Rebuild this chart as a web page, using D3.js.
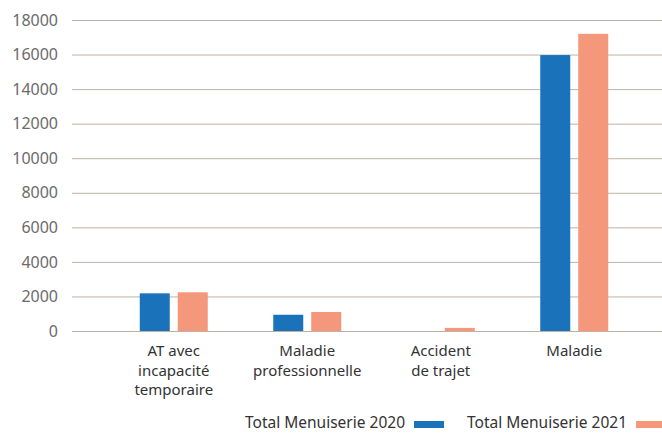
<!DOCTYPE html>
<html>
<head>
<meta charset="utf-8">
<script src="https://cdn.jsdelivr.net/npm/d3@7"></script>
<style>
  body { margin: 0; background: #fff; }
  svg { display: block; font-family: "Noto Sans", sans-serif; }
</style>
</head>
<body>
<div id="chart"></div>
<script>
// --- Data ---
var categories = [
    ['AT avec', 'incapacité', 'temporaire'],
    ['Maladie', 'professionnelle'],
    ['Accident', 'de trajet'],
    ['Maladie']
];
var seriesNames = ['Total Menuiserie 2020', 'Total Menuiserie 2021'];
var values2020 = [2180, 940, 0, 15970];
var values2021 = [2240, 1100, 180, 17200];
var yTicks = [0, 2000, 4000, 6000, 8000, 10000, 12000, 14000, 16000, 18000];

var colors = ['#1a73ba', '#f4977a'];
var width = 662, height = 433;

var svg = d3.select('#chart').append('svg')
    .attr('width', width)
    .attr('height', height);

// --- Scales ---
var y = d3.scaleLinear().domain([0, 18000]).range([331, 20]);
var x = d3.scaleBand().domain(d3.range(categories.length)).range([107, 641]);
var xs = d3.scaleBand().domain([0, 1]).range([0, 68]).paddingInner(8 / 38);

// --- Gridlines + y labels ---
var yAxis = svg.append('g')
    .attr('transform', 'translate(72,0)')
    .call(d3.axisLeft(y).tickValues(yTicks).tickSize(-(width - 72)).tickPadding(14)
        .tickFormat(d3.format('d')));
yAxis.select('.domain').remove();
yAxis.selectAll('.tick line').attr('stroke', '#bfb1a5').attr('stroke-width', 1);
yAxis.selectAll('.tick text')
    .attr('fill', '#6b6b6b')
    .attr('font-size', '16px')
    .attr('font-family', '"Noto Sans", sans-serif');

// --- Bars ---
var series = [values2020, values2021];
var groups = svg.append('g').selectAll('g')
    .data(categories)
    .join('g')
    .attr('transform', function (d, i) { return 'translate(' + (x(i) + (x.bandwidth() - 68) / 2) + ',0)'; });

groups.selectAll('rect')
    .data(function (d, i) { return series.map(function (s, k) { return { k: k, v: s[i] }; }); })
    .join('rect')
    .attr('x', function (d) { return xs(d.k); })
    .attr('width', xs.bandwidth())
    .attr('y', function (d) { return y(d.v); })
    .attr('height', function (d) { return y(0) - y(d.v); })
    .attr('fill', function (d) { return colors[d.k]; });

// --- Category labels (one text per line) ---
groups.selectAll('text.cat')
    .data(function (d) { return d; })
    .join('text')
    .attr('class', 'cat')
    .attr('text-anchor', 'middle')
    .attr('fill', '#333')
    .attr('font-size', '15px')
    .attr('x', 34)
    .attr('y', function (d, i) { return 356 + i * 19.5; })
    .text(function (d) { return d; });

// --- Legend ---
var legendX = [405, 627];
var legend = svg.append('g').selectAll('g')
    .data(seriesNames)
    .join('g');
legend.append('text')
    .attr('x', function (d, i) { return legendX[i]; })
    .attr('y', 428)
    .attr('text-anchor', 'end')
    .attr('fill', '#333')
    .attr('font-size', '15.5px')
    .text(function (d) { return d; });
legend.append('rect')
    .attr('x', function (d, i) { return legendX[i] + 9; })
    .attr('y', 421)
    .attr('width', 30)
    .attr('height', 7)
    .attr('fill', function (d, i) { return colors[i]; });
</script>
</body>
</html>
